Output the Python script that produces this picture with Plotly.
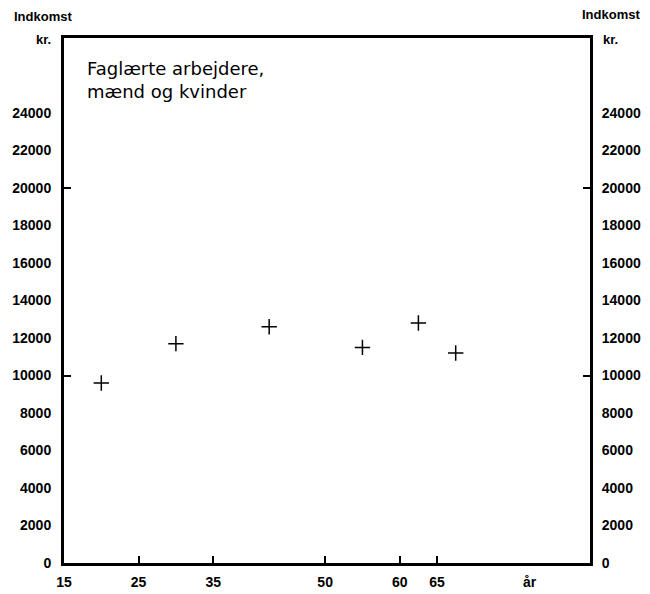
import plotly.graph_objects as go

# Data
ages = [20, 30, 42.5, 55, 62.5, 67.5]
income = [9600, 11700, 12600, 11500, 12800, 11200]

y_ticks = list(range(0, 24001, 2000))
y_text = [str(v) for v in y_ticks]
y_marks = [10000, 20000]
x_ticks = [15, 25, 35, 50, 60, 65]
x_marks = [25, 35, 50, 60, 65]

lab_font = dict(family="Liberation Sans", size=14, color="black", weight="bold")

fig = go.Figure()

# The crosses
fig.add_trace(go.Scatter(x=ages, y=income, mode="markers", showlegend=False,
                         marker=dict(symbol="cross-thin", size=11, line=dict(width=1.5, color="black"))))

# Empty traces so the extra axes get drawn
for xa, ya in [("x", "y2"), ("x", "y3"), ("x", "y4"), ("x2", "y")]:
    fig.add_trace(go.Scatter(x=[None], y=[None], xaxis=xa, yaxis=ya, showlegend=False, hoverinfo="skip"))

yrange = [0, 28000]
xrange = [15, 85.5]

fig.update_layout(
    width=644, height=588,
    margin=dict(l=56, r=62, t=30, b=33, autoexpand=False),
    paper_bgcolor="white", plot_bgcolor="white",
    font=lab_font,
    xaxis=dict(range=xrange, tickvals=x_ticks, ticks="", showgrid=False, zeroline=False,
               showline=True, linecolor="black", linewidth=3, mirror=True, tickfont=lab_font,
               ticklabelstandoff=4, automargin=False),
    xaxis2=dict(range=xrange, overlaying="x", side="bottom", anchor="y", tickvals=x_marks,
                ticks="inside", ticklen=7, tickwidth=2, tickcolor="black",
                showticklabels=False, showgrid=False, zeroline=False),
    yaxis=dict(range=yrange, tickvals=y_ticks, ticktext=y_text, ticks="", showgrid=False, zeroline=False,
               showline=True, linecolor="black", linewidth=3, tickfont=lab_font,
               ticklabelstandoff=7, automargin=False),
    yaxis2=dict(range=yrange, overlaying="y", side="right", anchor="x", tickvals=y_ticks, ticktext=y_text,
                ticks="", showgrid=False, zeroline=False, showline=True, linecolor="black", linewidth=3,
                tickfont=lab_font, ticklabelstandoff=6, automargin=False),
    yaxis3=dict(range=yrange, overlaying="y", side="left", anchor="x", tickvals=y_marks,
                ticks="inside", ticklen=7, tickwidth=2, tickcolor="black",
                showticklabels=False, showgrid=False, zeroline=False),
    yaxis4=dict(range=yrange, overlaying="y", side="right", anchor="x", tickvals=y_marks,
                ticks="inside", ticklen=7, tickwidth=2, tickcolor="black",
                showticklabels=False, showgrid=False, zeroline=False),
)

# Axis titles and label text
small_font = dict(family="Liberation Sans", size=13, color="black", weight="bold")
fig.add_annotation(text="Indkomst", xref="paper", yref="paper", x=-0.04, y=1.04,
                   xanchor="center", yanchor="middle", showarrow=False, font=small_font)
fig.add_annotation(text="kr.", xref="paper", yref="paper", x=-0.02, y=0.998,
                   xanchor="right", yanchor="middle", showarrow=False, font=small_font)
fig.add_annotation(text="Indkomst", xref="paper", yref="paper", x=1.04, y=1.045,
                   xanchor="center", yanchor="middle", showarrow=False, font=small_font)
fig.add_annotation(text="kr.", xref="paper", yref="paper", x=1.02, y=0.998,
                   xanchor="left", yanchor="middle", showarrow=False, font=small_font)
fig.add_annotation(text="år", xref="x", yref="paper", x=77.5, y=-0.036,
                   xanchor="center", yanchor="middle", showarrow=False, font=lab_font)
fig.add_annotation(text="Faglærte arbejdere,<br>mænd og kvinder", xref="paper", yref="paper",
                   x=0.04, y=0.965, xanchor="left", yanchor="top", align="left", showarrow=False,
                   font=dict(family="DejaVu Sans", size=18, color="black", weight="normal"))

fig.write_html("out.html")
